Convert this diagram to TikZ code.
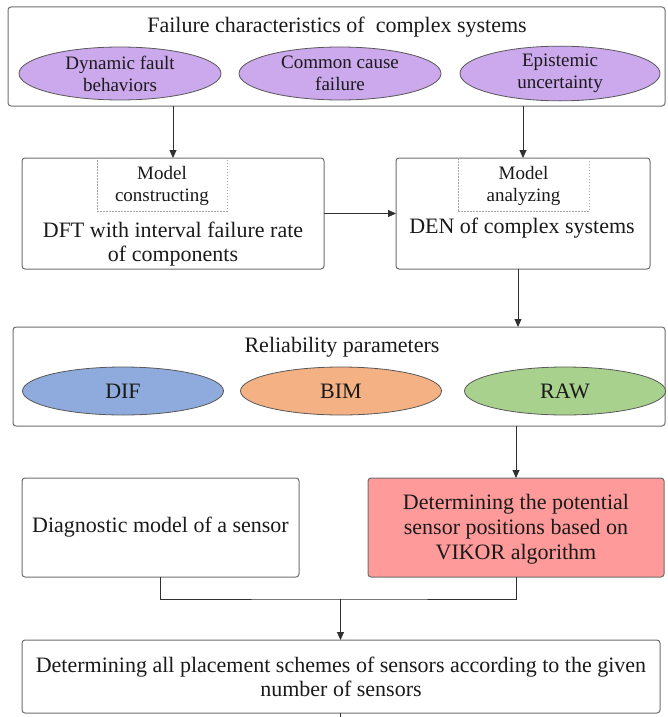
\documentclass[tikz,border=0pt]{standalone}
\usepackage{fontspec}
\setmainfont{Liberation Serif}
\usetikzlibrary{shapes.geometric,arrows.meta,calc}
\definecolor{boxline}{HTML}{6E6E6E}
\definecolor{conline}{HTML}{303030}
\definecolor{txt}{HTML}{1A1A1A}
\definecolor{lav}{HTML}{CCA8EC}
\definecolor{difblue}{HTML}{8FAADC}
\definecolor{bimorange}{HTML}{F4B183}
\definecolor{rawgreen}{HTML}{A9D18E}
\definecolor{vikred}{HTML}{FF9A9A}
\tikzset{
  panel/.style={draw=boxline, line width=1pt, rounded corners=3pt, inner sep=0pt, outer sep=0pt, fill=white},
  oval/.style={ellipse, draw=boxline!80!black, line width=0.8pt, inner sep=0pt, outer sep=0pt, minimum width=201pt, text=txt, align=center},
  dashbox/.style={draw=gray!70, dashed, dash pattern=on 1.5pt off 1.5pt, line width=0.6pt, inner sep=0pt},
  bigtxt/.style={font=\fontsize{22}{24.5}\selectfont, text=txt, align=center, inner sep=0pt},
  smalltxt/.style={font=\fontsize{19}{22}\selectfont, text=txt, align=center, inner sep=0pt},
  arr/.style={draw=conline, line width=0.9pt, -{Triangle[length=8pt,width=7pt]}},
  con/.style={draw=conline, line width=0.9pt}
}
\begin{document}
\begin{tikzpicture}[x=1pt,y=-1pt]
\useasboundingbox (0,0) rectangle (667,717);
% top panel
\node[panel, minimum width=657pt, minimum height=99pt] (fc) at (336.5,56.5) {};
\node[bigtxt] (fct) at (337,27) {Failure characteristics of \ complex systems};
\node[oval, smalltxt, fill=lav, minimum width=202pt, minimum height=53pt] (e1) at (120,73.5) {Dynamic fault\\behaviors};
\node[oval, smalltxt, fill=lav, minimum width=202pt, minimum height=53pt] (e2) at (340,73.5) {Common cause\\failure};
\node[oval, smalltxt, fill=lav, minimum width=200pt, minimum height=53pt] (e3) at (560,73.5) {Epistemic\\uncertainty};
% second row
\node[panel, minimum width=302pt, minimum height=111pt] (dft) at (173,213.5) {};
\node[dashbox, minimum width=130pt, minimum height=53pt] (dmc) at (162,184.5) {};
\node[smalltxt] (dmct) at (162,186) {Model\\constructing};
\node[bigtxt] (dftt) at (173,244) {DFT with interval failure rate\\of components};
\node[panel, minimum width=254pt, minimum height=111pt] (den) at (523,213.5) {};
\node[dashbox, minimum width=131pt, minimum height=53pt] (dma) at (523.5,184.5) {};
\node[smalltxt] (dmat) at (523.5,186) {Model\\analyzing};
\node[bigtxt] (dent) at (522,228) {DEN of complex systems};
% reliability parameters
\node[panel, minimum width=652pt, minimum height=99pt] (rp) at (339,376.5) {};
\node[bigtxt] (rpt) at (342,347) {Reliability parameters};
\node[oval, bigtxt, fill=difblue, minimum height=48pt] (dif) at (123,391) {DIF};
\node[oval, bigtxt, fill=bimorange, minimum height=48pt] (bim) at (341,391) {BIM};
\node[oval, bigtxt, fill=rawgreen, minimum height=48pt] (raw) at (565,391) {RAW};
% sensor row
\node[panel, minimum width=277pt, minimum height=99pt] (diag) at (160.5,527.5) {};
\node[bigtxt] (diagt) at (160.5,527) {Diagnostic model of a sensor};
\node[panel, fill=vikred, minimum width=296pt, minimum height=99pt] (vik) at (516,527.5) {};
\node[bigtxt, font=\fontsize{22}{25}\selectfont] (vikt) at (516,529) {Determining the potential\\sensor positions based on\\VIKOR algorithm};
% final
\node[panel, minimum width=638pt, minimum height=73pt] (fin) at (341,676.5) {};
\node[bigtxt] (fint) at (341,677) {Determining all placement schemes of sensors according to the given\\number of sensors};
% connectors
\draw[arr] (fc.south -| dft.north) -- (dft.north);
\draw[arr] (fc.south -| den.north) -- (den.north);
\draw[arr] (dft.east) -- (den.west);
\draw[arr] ($(den.south)+(-5,0)$) coordinate (dsx) -- (dsx |- rp.north);
\draw[arr] (rp.south -| vik.north) -- (vik.north);
\coordinate (bar) at (340.5,599);
\draw[con] (diag.south) |- (bar) -| (vik.south);
\draw[arr] (bar) -- (bar |- fin.north);
\coordinate (stub) at (340.5,717);
\draw[con] (fin.south -| stub) -- (stub);
\end{tikzpicture}
\end{document}
